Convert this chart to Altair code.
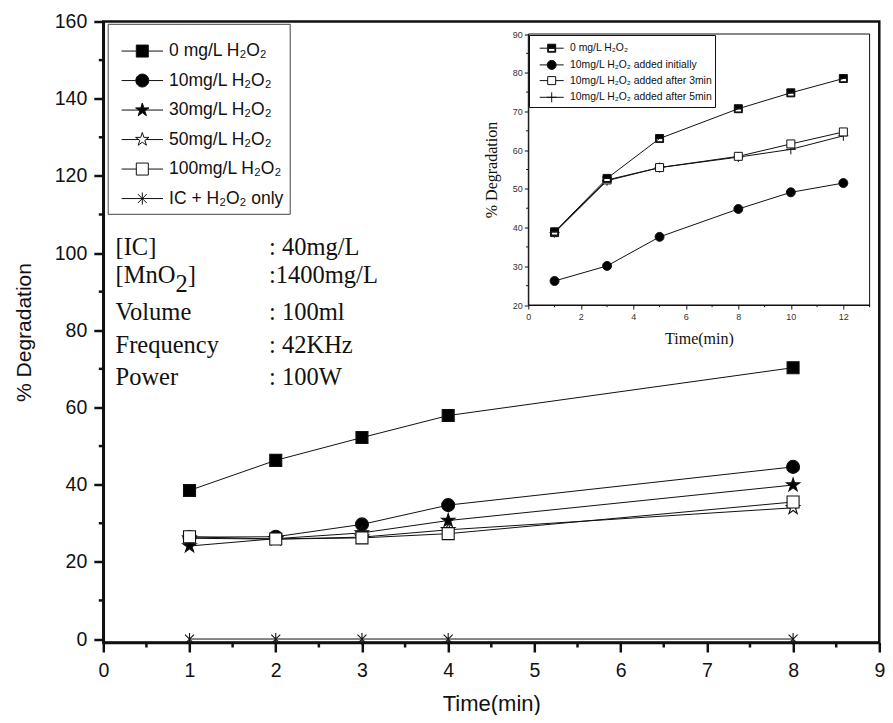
import math
import altair as alt
import pandas as pd

# ---------------- data ----------------
main_series = ["0 mg/L H₂O₂", "10mg/L H₂O₂", "30mg/L H₂O₂",
               "50mg/L H₂O₂", "100mg/L H₂O₂", "IC + H₂O₂ only"]
main_time = [1, 2, 3, 4, 8]
deg_0mg = [38.5, 46.3, 52.2, 57.9, 70.3]
deg_10mg = [26.4, 26.5, 29.7, 34.7, 44.6]
deg_30mg = [24.1, 26.0, 27.5, 30.7, 39.9]
deg_50mg = [26.1, 25.9, 26.4, 28.3, 34.0]
deg_100mg = [26.5, 25.9, 26.2, 27.3, 35.5]
deg_ic_only = [0.0, 0.0, 0.0, 0.0, 0.0]

inset_series = ["0  mg/L H₂O₂", "10mg/L H₂O₂ added initially",
                "10mg/L H₂O₂ added after 3min", "10mg/L H₂O₂ added after 5min"]
inset_time = [1, 3, 5, 8, 10, 12]
ins_0mg = [38.9, 52.7, 63.0, 70.7, 74.8, 78.5]
ins_initial = [26.2, 30.1, 37.6, 44.8, 49.1, 51.5]
ins_after3 = [38.7, 52.3, 55.5, 58.4, 61.6, 64.7]
ins_after5 = [38.7, 52.1, 55.5, 58.2, 60.2, 63.7]

x_ticks = list(range(0, 10))
y_ticks = list(range(0, 161, 20))
inset_x_ticks = list(range(0, 13, 2))
inset_y_ticks = list(range(20, 91, 10))

param_names = ["[IC]", "[MnO", "Volume", "Frequency", "Power"]
param_values = [": 40mg/L", ":1400mg/L", ": 100ml", ": 42KHz", ": 100W"]

# ---------------- layout / style ----------------
SANS = "Liberation Sans"
SERIF = "Liberation Serif"
INK = "#111111"
W, H = 776, 621
X_DOMAIN = [0, 9]
Y_DOMAIN = [-0.9, 160]
IN_X_DOMAIN = [0, 13]
IN_Y_DOMAIN = [20, 90]
IN_X_RANGE = [425, 766.3]
IN_Y_RANGE = [283.5, 12.5]


def f(v):
    return f"{v:.3f}".rstrip("0").rstrip(".")


def square_path(h):
    return f"M{f(-h)},{f(-h)}H{f(h)}V{f(h)}H{f(-h)}Z"


def circle_path(r):
    return f"M{f(r)},0A{f(r)},{f(r)} 0 1,1 {f(-r)},0A{f(r)},{f(r)} 0 1,1 {f(r)},0Z"


def star_path(R):
    pts = []
    for k in range(10):
        ang = math.radians(-90 + 36 * k)
        rr = R if k % 2 == 0 else R * 0.382
        pts.append((rr * math.cos(ang), rr * math.sin(ang)))
    return "M" + "L".join(f"{f(x)},{f(y)}" for x, y in pts) + "Z"


def stubs(L, a):
    return f"M{f(-L)},0H{f(-a)}M{f(a)},0H{f(L)}"


AST = "M0,-1V1M-0.75,-0.75L0.75,0.75M-0.75,0.75L0.75,-0.75"
HALF = "M-1,-1H1V0H-1ZM-1,0V1H1V0ZM-0.8,0H0.8V0.8H-0.8Z"
PLUS = "M-1.25,0H1.25M0,-1.25V1.25"

m_sq, m_circ, m_star = square_path(1), circle_path(1.08), star_path(1.17)
main_shapes = [m_sq, m_circ, m_star, m_star, m_sq, AST]
main_fills = ["black", "black", "black", "white", "white", "black"]
LM = 3.45
main_key_shapes = [m_sq + stubs(LM, 1), m_circ + stubs(LM, 1.08),
                   m_star + stubs(LM, 0.6), m_star + stubs(LM, 0.62),
                   m_sq + stubs(LM, 1), AST + f"M{-LM},0H{LM}"]

i_circ, i_sq = circle_path(1.12), square_path(1)
inset_shapes = [HALF, i_circ, i_sq, PLUS]
inset_fills = ["black", "black", "white", "black"]
LI = 3.0
inset_key_shapes = [HALF + stubs(LI, 1), i_circ + stubs(LI, 1.12),
                    i_sq + stubs(LI, 1), PLUS + f"M{-LI},0H{LI}"]

# ---------------- tables ----------------
main_vals = [deg_0mg, deg_10mg, deg_30mg, deg_50mg, deg_100mg, deg_ic_only]
main_df = pd.DataFrame([{"t": t, "v": v, "s": s}
                        for s, vals in zip(main_series, main_vals)
                        for t, v in zip(main_time, vals)])
inset_vals = dict(zip(inset_series, [ins_0mg, ins_initial, ins_after3, ins_after5]))
draw_order = [inset_series[3], inset_series[2], inset_series[1], inset_series[0]]
inset_df = pd.DataFrame([{"t": t, "v": v, "s": s}
                         for s in draw_order
                         for t, v in zip(inset_time, inset_vals[s])])

xs = alt.Scale(domain=X_DOMAIN, nice=False, zero=False)
ys = alt.Scale(domain=Y_DOMAIN, nice=False, zero=False)
ixs = alt.Scale(domain=IN_X_DOMAIN, range=IN_X_RANGE, nice=False, zero=False)
iys = alt.Scale(domain=IN_Y_DOMAIN, range=IN_Y_RANGE, nice=False, zero=False)

main_x_axis = alt.Axis(orient="bottom", values=x_ticks, format="d", title="Time(min)",
                       titleFont=SANS, titleFontSize=22, titleFontWeight="normal",
                       titleColor=INK, titlePadding=14, labelFont=SANS, labelFontSize=19.5,
                       labelColor=INK, labelPadding=9, tickSize=9.5, tickWidth=2.5,
                       tickColor=INK, domainColor=INK, domainWidth=2.5, labelFlush=False,
                       labelOverlap=False, grid=False)
main_y_axis = alt.Axis(orient="left", values=y_ticks, format="d", title="% Degradation",
                       titleFont=SANS, titleFontSize=21, titleFontWeight="normal",
                       titleColor=INK, titlePadding=20, labelFont=SANS, labelFontSize=19.5,
                       labelColor=INK, labelPadding=7, tickSize=9.5, tickWidth=2.5,
                       tickColor=INK, domainColor=INK, domainWidth=2.5, labelFlush=False,
                       labelOverlap=False, grid=False)

main_legend = alt.Legend(orient="none", legendX=4.4, legendY=2.3, title=" ",
                         titleFontSize=7, titlePadding=5.5, labelFont=SANS,
                         labelFontSize=17.5, labelColor=INK, symbolSize=144,
                         symbolStrokeColor=INK, symbolStrokeWidth=1,
                         symbolOffset=19.85, labelOffset=18, rowPadding=10.5,
                         padding=6, strokeColor="#444444", fillColor="white",
                         symbolOpacity=1, labelLimit=400)

main_lines = alt.Chart(main_df).mark_line(color=INK, strokeWidth=1).encode(
    x=alt.X("t:Q", scale=xs, axis=main_x_axis),
    y=alt.Y("v:Q", scale=ys, axis=main_y_axis),
    detail="s:N", order="t:Q")

main_points = alt.Chart(main_df).mark_point(
    filled=True, stroke=INK, strokeWidth=1.1, opacity=1, size=144).encode(
    x=alt.X("t:Q", scale=xs, axis=None),
    y=alt.Y("v:Q", scale=ys, axis=None),
    shape=alt.Shape("s:N", scale=alt.Scale(domain=main_series, range=main_shapes), legend=None),
    fill=alt.Fill("s:N", scale=alt.Scale(domain=main_series, range=main_fills), legend=None))

main_key = alt.Chart(main_df).transform_filter("false").mark_point(
    filled=True, stroke=INK, strokeWidth=1, opacity=1, size=144).encode(
    x=alt.X("t:Q", scale=xs, axis=None),
    y=alt.Y("v:Q", scale=ys, axis=None),
    shape=alt.Shape("s:N", scale=alt.Scale(domain=main_series, range=main_key_shapes),
                    legend=main_legend, title=" "),
    fill=alt.Fill("s:N", scale=alt.Scale(domain=main_series, range=main_fills),
                  legend=main_legend, title=" "),
    stroke=alt.Stroke("s:N", scale=alt.Scale(domain=main_series, range=[INK] * len(main_series)),
                      legend=main_legend, title=" "))

minor_x = alt.Chart(pd.DataFrame({"t": [k + 0.5 for k in range(9)]})).mark_rule(
    color=INK, strokeWidth=2.5).encode(
    x=alt.X("t:Q", scale=xs, axis=None), y=alt.value(H), y2=alt.value(H + 5))
minor_y = alt.Chart(pd.DataFrame({"v": list(range(10, 160, 20))})).mark_rule(
    color=INK, strokeWidth=2.5).encode(
    y=alt.Y("v:Q", scale=ys, axis=None), x=alt.value(-4.5), x2=alt.value(0))


def text_layer(txt, x, y, size=24.5, font=SERIF):
    return alt.Chart(pd.DataFrame({"txt": [txt]})).mark_text(
        font=font, fontSize=size, align="left", baseline="alphabetic", color=INK).encode(
        x=alt.value(x), y=alt.value(y), text="txt:N")


ann_y = [233.5, 261.5, 298.5, 331.5, 363.5]
texts = []
for name, val, yy in zip(param_names, param_values, ann_y):
    texts.append(text_layer(name, 12.2, yy))
    texts.append(text_layer(val, 165.7, yy))
texts.append(text_layer("2", 72.1, ann_y[1] + 8.5))
texts.append(text_layer("]", 84.5, ann_y[1]))

# ---------------- inset ----------------
inset_x_axis = alt.Axis(orient="bottom", offset=-(H - IN_Y_RANGE[0]), values=inset_x_ticks,
                        format="d", title="Time(min)", titleFont=SERIF, titleFontSize=16,
                        titleFontWeight="normal", titleColor=INK, titlePadding=9,
                        labelFont=SANS, labelFontSize=9, labelColor="#333333",
                        labelPadding=3, tickSize=4, tickWidth=1, tickColor=INK,
                        domainColor=INK, domainWidth=1, labelFlush=False,
                        labelOverlap=False, grid=False, zindex=1)
inset_y_axis = alt.Axis(orient="left", offset=-IN_X_RANGE[0], values=inset_y_ticks,
                        format="d", title="% Degradation", titleFont=SERIF, titleFontSize=16,
                        titleFontWeight="normal", titleColor=INK, titlePadding=13,
                        labelFont=SANS, labelFontSize=9, labelColor="#333333",
                        labelPadding=2, tickSize=4, tickWidth=1, tickColor=INK,
                        domainColor=INK, domainWidth=1, labelFlush=False,
                        labelOverlap=False, grid=False, zindex=1)

inset_legend = alt.Legend(orient="none", legendX=425.7, legendY=13.5, title=" ",
                          titleFontSize=4, titlePadding=2, labelFont=SANS,
                          labelFontSize=10.4, labelColor=INK, symbolSize=64,
                          symbolStrokeColor=INK, symbolStrokeWidth=1,
                          symbolOffset=15.5, labelOffset=13.1, rowPadding=2.7,
                          padding=2, strokeColor=INK, fillColor="white",
                          symbolOpacity=1, labelLimit=400)

frame_df = pd.DataFrame({"x0": [IN_X_DOMAIN[0]], "x1": [IN_X_DOMAIN[1]],
                         "y0": [IN_Y_DOMAIN[0]], "y1": [IN_Y_DOMAIN[1]]})
inset_frame = alt.Chart(frame_df).mark_rect(fill="white", stroke=INK, strokeWidth=1).encode(
    x=alt.X("x0:Q", scale=ixs, axis=inset_x_axis), x2="x1:Q",
    y=alt.Y("y0:Q", scale=iys, axis=inset_y_axis), y2="y1:Q")

inset_lines = alt.Chart(inset_df).mark_line(color=INK, strokeWidth=1).encode(
    x=alt.X("t:Q", scale=ixs, axis=None), y=alt.Y("v:Q", scale=iys, axis=None),
    detail="s:N", order="t:Q")

inset_points = alt.Chart(inset_df).mark_point(
    filled=True, stroke=INK, strokeWidth=1, opacity=1, size=64).encode(
    x=alt.X("t:Q", scale=ixs, axis=None), y=alt.Y("v:Q", scale=iys, axis=None),
    shape=alt.Shape("s:N", scale=alt.Scale(domain=inset_series, range=inset_shapes), legend=None),
    fill=alt.Fill("s:N", scale=alt.Scale(domain=inset_series, range=inset_fills), legend=None))

inset_key = alt.Chart(inset_df).transform_filter("false").mark_point(
    filled=True, stroke=INK, strokeWidth=1, opacity=1, size=64).encode(
    x=alt.X("t:Q", scale=ixs, axis=None), y=alt.Y("v:Q", scale=iys, axis=None),
    shape=alt.Shape("s:N", scale=alt.Scale(domain=inset_series, range=inset_key_shapes),
                    legend=inset_legend, title=" "),
    fill=alt.Fill("s:N", scale=alt.Scale(domain=inset_series, range=inset_fills),
                  legend=inset_legend, title=" "),
    stroke=alt.Stroke("s:N", scale=alt.Scale(domain=inset_series, range=[INK] * len(inset_series)),
                      legend=inset_legend, title=" "))

in_minor_x = alt.Chart(pd.DataFrame({"t": list(range(1, 14, 2))})).mark_rule(
    color=INK, strokeWidth=1).encode(
    x=alt.X("t:Q", scale=ixs, axis=None),
    y=alt.value(IN_Y_RANGE[0]), y2=alt.value(IN_Y_RANGE[0] + 2.2))
in_minor_y = alt.Chart(pd.DataFrame({"v": list(range(25, 90, 10))})).mark_rule(
    color=INK, strokeWidth=1).encode(
    y=alt.Y("v:Q", scale=iys, axis=None),
    x=alt.value(IN_X_RANGE[0] - 2.2), x2=alt.value(IN_X_RANGE[0]))

chart = alt.layer(
    main_lines, minor_x, minor_y, main_points, main_key, *texts,
    inset_frame, inset_lines, inset_points, inset_key, in_minor_x, in_minor_y
).resolve_scale(
    x="independent", y="independent", shape="independent", fill="independent",
    stroke="independent"
).properties(
    width=W, height=H,
    padding={"left": 95.3, "top": 13.5, "right": 5.7, "bottom": 72},
    autosize=alt.AutoSizeParams(type="none"),
    background="white",
).configure_view(stroke=INK, strokeWidth=2.5).configure_axis(grid=False)

chart.save("out.html", embed_options={"renderer": "svg", "actions": False})
